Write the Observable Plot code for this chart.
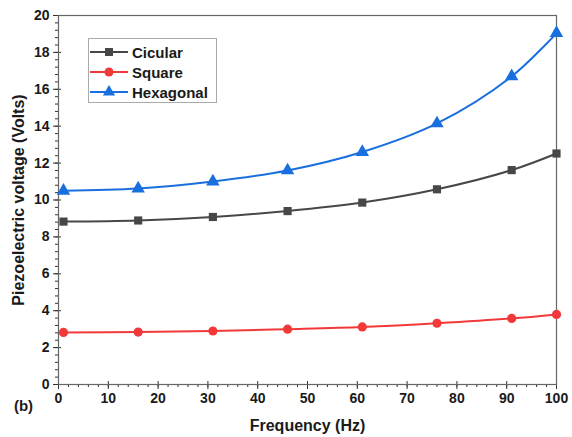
<!DOCTYPE html>
<html>
<head>
<meta charset="utf-8">
<script src="https://cdn.jsdelivr.net/npm/d3@7"></script>
<script src="https://cdn.jsdelivr.net/npm/@observablehq/plot@0.6"></script>
<style>
  html, body { margin: 0; padding: 0; background: #fff; }
  #wrap { position: relative; width: 572px; height: 437px; font-family: "Liberation Sans", Arial, sans-serif; }
  #legend { position: absolute; left: 88px; top: 38px; width: 129px; height: 65px; border: 1px solid #aaa; background: #fff; box-sizing: border-box; }
  #legend .row { position: absolute; left: 0; height: 20px; display: flex; align-items: center; }
  #legend .row span { font-weight: bold; font-size: 15px; color: #1a1a1a; margin-left: 3px; }
</style>
</head>
<body>
<div id="wrap"></div>
<script>
const frequency = [1, 16, 31, 46, 61, 76, 91, 100];
const cicular   = [8.83, 8.89, 9.08, 9.40, 9.86, 10.58, 11.62, 12.52];
const square    = [2.82, 2.84, 2.90, 3.00, 3.12, 3.32, 3.58, 3.80];
const hexagonal = [10.50, 10.62, 11.00, 11.60, 12.60, 14.15, 16.70, 19.05];

const seriesNames = ["Cicular", "Square", "Hexagonal"];
const seriesColors = ["#474747", "#f2393a", "#1a6fdf"];
const seriesSymbols = ["square", "circle", "triangle"];
const seriesValues = [cicular, square, hexagonal];

const xMajor = d3.range(0, 101, 10);
const xMinor = d3.range(0, 101, 2);
const yMajor = d3.range(0, 21, 2);
const yMinor = d3.range(0, 20.01, 0.4);

const data = seriesNames.flatMap((name, i) =>
  frequency.map((f, j) => ({series: name, x: f, y: seriesValues[i][j]})));

const font = "Liberation Sans, Arial, sans-serif";

const marks = [
  Plot.axisX({ticks: xMinor, tickSize: 3, text: null, stroke: "#333", label: null}),
  Plot.axisX({ticks: xMajor, tickSize: 5, tickPadding: 4, fontSize: 14, fontWeight: "bold", stroke: "#333", label: null, fill: "#1a1a1a"}),
  Plot.axisX({ticks: xMajor, tickSize: -3, text: null, stroke: "#333", label: null}),
  Plot.axisX({ticks: [], label: "Frequency (Hz)", labelAnchor: "center", labelArrow: "none", labelOffset: 46, fontSize: 16, fontWeight: "bold", fill: "#1a1a1a"}),
  Plot.axisY({ticks: yMinor, tickSize: 3, text: null, stroke: "#333", label: null}),
  Plot.axisY({ticks: yMajor, tickSize: 5, tickPadding: 4, fontSize: 14, fontWeight: "bold", stroke: "#333", label: null, fill: "#1a1a1a"}),
  Plot.axisY({ticks: yMajor, tickSize: -3, text: null, stroke: "#333", label: null}),
  Plot.axisY({ticks: [], label: "Piezoelectric voltage (Volts)", labelAnchor: "center", labelArrow: "none", labelOffset: 46, fontSize: 16, fontWeight: "bold", fill: "#1a1a1a"}),
  Plot.frame({stroke: "#666", strokeWidth: 1.2}),
];
seriesNames.forEach((name, i) => {
  const d = data.filter(r => r.series === name);
  marks.push(Plot.line(d, {x: "x", y: "y", stroke: seriesColors[i], strokeWidth: 2, curve: "catmull-rom"}));
  marks.push(Plot.dot(d, {x: "x", y: "y", fill: seriesColors[i], symbol: seriesSymbols[i], r: i === 2 ? 5 : 4.6}));
});
marks.push(Plot.text(["(b)"], {frameAnchor: "bottom-left", dx: -35, dy: 26, fontSize: 15, fontWeight: "bold", fill: "#1a1a1a", textAnchor: "middle"}));

const chart = Plot.plot({
  width: 572,
  height: 437,
  marginLeft: 58,
  marginRight: 16,
  marginTop: 15,
  marginBottom: 53,
  style: {fontFamily: font, background: "#fff"},
  x: {domain: [0, 100]},
  y: {domain: [0, 20]},
  marks
});
const wrap = document.getElementById("wrap");
wrap.appendChild(chart);

// legend
const legend = document.createElement("div");
legend.id = "legend";
seriesNames.forEach((name, i) => {
  const row = document.createElement("div");
  row.className = "row";
  row.style.top = (3 + i * 20) + "px";
  const svg = d3.create("svg").attr("width", 40).attr("height", 20);
  svg.append("line").attr("x1", 1).attr("x2", 39).attr("y1", 10).attr("y2", 10)
    .attr("stroke", seriesColors[i]).attr("stroke-width", 2);
  svg.append("path").attr("transform", "translate(20,10)")
    .attr("d", d3.symbol(i === 0 ? d3.symbolSquare : i === 1 ? d3.symbolCircle : d3.symbolTriangle, 64)())
    .attr("fill", seriesColors[i]);
  row.appendChild(svg.node());
  const sp = document.createElement("span");
  sp.textContent = name;
  row.appendChild(sp);
  legend.appendChild(row);
});
wrap.appendChild(legend);
</script>
</body>
</html>
